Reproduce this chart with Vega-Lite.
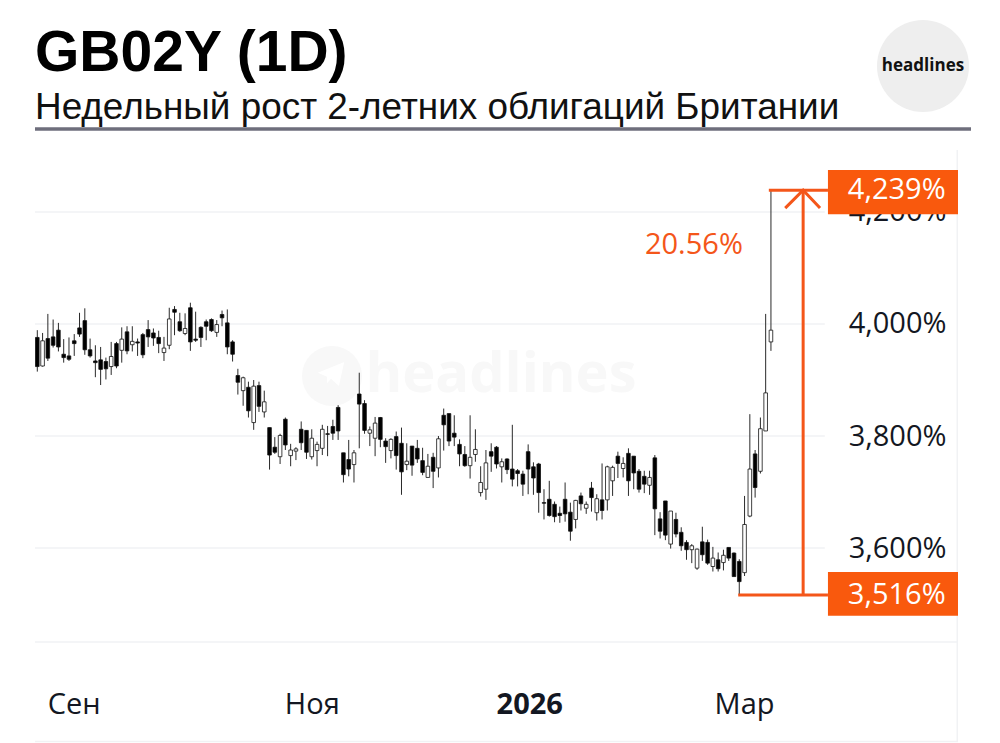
{
  "$schema": "https://vega.github.io/schema/vega-lite/v6.json",
  "description": "GB02Y daily candles with the weekly rise marked in orange",
  "autosize": {"type": "none"},
  "padding": {"left": 35, "top": 150, "right": 42, "bottom": 1},
  "width": 923,
  "height": 592,
  "background": "white",
  "title": {
    "text": "GB02Y (1D)",
    "subtitle": "Недельный рост 2-летних облигаций Британии",
    "anchor": "start",
    "frame": "group",
    "offset": 22,
    "dy": 129,
    "font": "Liberation Sans",
    "fontSize": 57,
    "fontWeight": "bold",
    "color": "black",
    "subtitleFont": "Liberation Sans",
    "subtitleFontSize": 36.9,
    "subtitleColor": "#111111",
    "subtitlePadding": 7
  },
  "config": {"view": {"stroke": null}},
  "datasets": {
    "one": [{}],
    "candles": [
      {"n":1,"high":3.989,"open":3.976,"close":3.924,"low":3.915},
      {"n":2,"high":3.984,"open":3.925,"close":3.970,"low":3.924},
      {"n":3,"high":4.018,"open":3.974,"close":3.939,"low":3.934},
      {"n":4,"high":4.008,"open":3.977,"close":3.962,"low":3.958},
      {"n":5,"high":4.002,"open":3.989,"close":3.959,"low":3.951},
      {"n":6,"high":3.973,"open":3.946,"close":3.940,"low":3.931},
      {"n":7,"high":3.976,"open":3.943,"close":3.937,"low":3.934},
      {"n":8,"high":3.982,"open":3.970,"close":3.965,"low":3.943},
      {"n":9,"high":4.020,"open":3.993,"close":3.982,"low":3.977},
      {"n":10,"high":4.028,"open":4.006,"close":3.954,"low":3.945},
      {"n":11,"high":3.974,"open":3.954,"close":3.943,"low":3.940},
      {"n":12,"high":3.962,"open":3.934,"close":3.931,"low":3.905},
      {"n":13,"high":3.959,"open":3.936,"close":3.919,"low":3.891},
      {"n":14,"high":3.940,"open":3.933,"close":3.920,"low":3.901},
      {"n":15,"high":3.968,"open":3.924,"close":3.942,"low":3.909},
      {"n":16,"high":3.968,"open":3.965,"close":3.925,"low":3.921},
      {"n":17,"high":3.994,"open":3.953,"close":3.973,"low":3.931},
      {"n":18,"high":3.996,"open":3.986,"close":3.952,"low":3.946},
      {"n":19,"high":3.996,"open":3.963,"close":3.969,"low":3.951},
      {"n":20,"high":3.974,"open":3.968,"close":3.966,"low":3.943},
      {"n":21,"high":3.984,"open":3.981,"close":3.945,"low":3.939},
      {"n":22,"high":4.007,"open":3.990,"close":3.977,"low":3.959},
      {"n":23,"high":3.992,"open":3.984,"close":3.975,"low":3.961},
      {"n":24,"high":3.988,"open":3.976,"close":3.965,"low":3.948},
      {"n":25,"high":3.977,"open":3.949,"close":3.957,"low":3.934},
      {"n":26,"high":4.029,"open":3.962,"close":4.009,"low":3.955},
      {"n":27,"high":4.032,"open":4.026,"close":4.021,"low":3.980},
      {"n":28,"high":4.020,"open":4.004,"close":3.988,"low":3.986},
      {"n":29,"high":4.019,"open":3.983,"close":3.992,"low":3.980},
      {"n":30,"high":4.038,"open":4.029,"close":3.968,"low":3.952},
      {"n":31,"high":4.022,"open":3.973,"close":3.971,"low":3.968},
      {"n":32,"high":3.996,"open":3.994,"close":3.976,"low":3.959},
      {"n":33,"high":4.008,"open":4.004,"close":3.996,"low":3.971},
      {"n":34,"high":4.010,"open":4.008,"close":3.988,"low":3.986},
      {"n":35,"high":4.007,"open":3.985,"close":3.999,"low":3.977},
      {"n":36,"high":4.024,"open":4.017,"close":4.011,"low":3.996},
      {"n":37,"high":4.026,"open":4.002,"close":3.959,"low":3.946},
      {"n":38,"high":3.971,"open":3.968,"close":3.946,"low":3.933},
      {"n":39,"high":3.920,"open":3.908,"close":3.896,"low":3.874},
      {"n":40,"high":3.906,"open":3.881,"close":3.904,"low":3.854},
      {"n":41,"high":3.897,"open":3.887,"close":3.845,"low":3.833},
      {"n":42,"high":3.900,"open":3.824,"close":3.889,"low":3.811},
      {"n":43,"high":3.897,"open":3.890,"close":3.853,"low":3.843},
      {"n":44,"high":3.881,"open":3.843,"close":3.861,"low":3.833},
      {"n":45,"high":3.815,"open":3.815,"close":3.766,"low":3.740},
      {"n":46,"high":3.798,"open":3.780,"close":3.771,"low":3.768},
      {"n":47,"high":3.804,"open":3.763,"close":3.801,"low":3.750},
      {"n":48,"high":3.833,"open":3.830,"close":3.784,"low":3.775},
      {"n":49,"high":3.786,"open":3.765,"close":3.775,"low":3.746},
      {"n":50,"high":3.780,"open":3.773,"close":3.777,"low":3.757},
      {"n":51,"high":3.826,"open":3.812,"close":3.788,"low":3.775},
      {"n":52,"high":3.810,"open":3.810,"close":3.771,"low":3.759},
      {"n":53,"high":3.812,"open":3.763,"close":3.796,"low":3.758},
      {"n":54,"high":3.790,"open":3.774,"close":3.785,"low":3.746},
      {"n":55,"high":3.820,"open":3.778,"close":3.812,"low":3.766},
      {"n":56,"high":3.818,"open":3.804,"close":3.803,"low":3.764},
      {"n":57,"high":3.829,"open":3.817,"close":3.805,"low":3.793},
      {"n":58,"high":3.855,"open":3.851,"close":3.809,"low":3.793},
      {"n":59,"high":3.770,"open":3.770,"close":3.731,"low":3.717},
      {"n":60,"high":3.793,"open":3.758,"close":3.741,"low":3.728},
      {"n":61,"high":3.775,"open":3.749,"close":3.770,"low":3.717},
      {"n":62,"high":3.913,"open":3.875,"close":3.857,"low":3.778},
      {"n":63,"high":3.864,"open":3.858,"close":3.810,"low":3.804},
      {"n":64,"high":3.817,"open":3.805,"close":3.811,"low":3.782},
      {"n":65,"high":3.834,"open":3.796,"close":3.823,"low":3.764},
      {"n":66,"high":3.834,"open":3.833,"close":3.794,"low":3.780},
      {"n":67,"high":3.796,"open":3.791,"close":3.781,"low":3.752},
      {"n":68,"high":3.796,"open":3.774,"close":3.794,"low":3.760},
      {"n":69,"high":3.808,"open":3.799,"close":3.765,"low":3.740},
      {"n":70,"high":3.815,"open":3.787,"close":3.736,"low":3.695},
      {"n":71,"high":3.787,"open":3.749,"close":3.755,"low":3.739},
      {"n":72,"high":3.782,"open":3.782,"close":3.748,"low":3.729},
      {"n":73,"high":3.793,"open":3.778,"close":3.759,"low":3.752},
      {"n":74,"high":3.779,"open":3.756,"close":3.735,"low":3.730},
      {"n":75,"high":3.768,"open":3.726,"close":3.746,"low":3.726},
      {"n":76,"high":3.770,"open":3.762,"close":3.737,"low":3.707},
      {"n":77,"high":3.800,"open":3.743,"close":3.795,"low":3.726},
      {"n":78,"high":3.849,"open":3.837,"close":3.820,"low":3.774},
      {"n":79,"high":3.840,"open":3.840,"close":3.791,"low":3.782},
      {"n":80,"high":3.837,"open":3.805,"close":3.798,"low":3.782},
      {"n":81,"high":3.794,"open":3.785,"close":3.768,"low":3.746},
      {"n":82,"high":3.782,"open":3.767,"close":3.747,"low":3.745},
      {"n":83,"high":3.837,"open":3.747,"close":3.762,"low":3.724},
      {"n":84,"high":3.812,"open":3.767,"close":3.776,"low":3.754},
      {"n":85,"high":3.746,"open":3.699,"close":3.717,"low":3.692},
      {"n":86,"high":3.775,"open":3.705,"close":3.752,"low":3.686},
      {"n":87,"high":3.787,"open":3.772,"close":3.764,"low":3.736},
      {"n":88,"high":3.782,"open":3.780,"close":3.750,"low":3.742},
      {"n":89,"high":3.760,"open":3.745,"close":3.754,"low":3.717},
      {"n":90,"high":3.760,"open":3.759,"close":3.740,"low":3.732},
      {"n":91,"high":3.820,"open":3.741,"close":3.723,"low":3.710},
      {"n":92,"high":3.741,"open":3.738,"close":3.733,"low":3.710},
      {"n":93,"high":3.738,"open":3.732,"close":3.714,"low":3.693},
      {"n":94,"high":3.785,"open":3.772,"close":3.741,"low":3.696},
      {"n":95,"high":3.753,"open":3.745,"close":3.725,"low":3.695},
      {"n":96,"high":3.752,"open":3.750,"close":3.699,"low":3.663},
      {"n":97,"high":3.705,"open":3.681,"close":3.680,"low":3.651},
      {"n":98,"high":3.720,"open":3.687,"close":3.658,"low":3.656},
      {"n":99,"high":3.683,"open":3.678,"close":3.656,"low":3.646},
      {"n":100,"high":3.674,"open":3.662,"close":3.658,"low":3.645},
      {"n":101,"high":3.717,"open":3.687,"close":3.661,"low":3.647},
      {"n":102,"high":3.681,"open":3.664,"close":3.630,"low":3.613},
      {"n":103,"high":3.686,"open":3.651,"close":3.685,"low":3.635},
      {"n":104,"high":3.699,"open":3.693,"close":3.679,"low":3.667},
      {"n":105,"high":3.683,"open":3.671,"close":3.678,"low":3.661},
      {"n":106,"high":3.718,"open":3.707,"close":3.690,"low":3.665},
      {"n":107,"high":3.696,"open":3.663,"close":3.688,"low":3.649},
      {"n":108,"high":3.751,"open":3.686,"close":3.667,"low":3.651},
      {"n":109,"high":3.747,"open":3.686,"close":3.745,"low":3.667},
      {"n":110,"high":3.747,"open":3.720,"close":3.744,"low":3.693},
      {"n":111,"high":3.772,"open":3.764,"close":3.751,"low":3.725},
      {"n":112,"high":3.762,"open":3.742,"close":3.751,"low":3.726},
      {"n":113,"high":3.778,"open":3.769,"close":3.720,"low":3.693},
      {"n":114,"high":3.764,"open":3.764,"close":3.734,"low":3.705},
      {"n":115,"high":3.741,"open":3.737,"close":3.705,"low":3.699},
      {"n":116,"high":3.738,"open":3.728,"close":3.714,"low":3.698},
      {"n":117,"high":3.738,"open":3.712,"close":3.726,"low":3.695},
      {"n":118,"high":3.766,"open":3.761,"close":3.670,"low":3.623},
      {"n":119,"high":3.664,"open":3.652,"close":3.630,"low":3.617},
      {"n":120,"high":3.684,"open":3.684,"close":3.623,"low":3.614},
      {"n":121,"high":3.666,"open":3.607,"close":3.666,"low":3.599},
      {"n":122,"high":3.663,"open":3.651,"close":3.625,"low":3.619},
      {"n":123,"high":3.637,"open":3.628,"close":3.604,"low":3.595},
      {"n":124,"high":3.614,"open":3.610,"close":3.597,"low":3.579},
      {"n":125,"high":3.607,"open":3.597,"close":3.604,"low":3.573},
      {"n":126,"high":3.599,"open":3.564,"close":3.598,"low":3.561},
      {"n":127,"high":3.638,"open":3.611,"close":3.588,"low":3.577},
      {"n":128,"high":3.615,"open":3.610,"close":3.573,"low":3.570},
      {"n":129,"high":3.602,"open":3.567,"close":3.582,"low":3.558},
      {"n":130,"high":3.592,"open":3.579,"close":3.563,"low":3.558},
      {"n":131,"high":3.597,"open":3.574,"close":3.587,"low":3.560},
      {"n":132,"high":3.601,"open":3.601,"close":3.582,"low":3.577},
      {"n":133,"high":3.592,"open":3.591,"close":3.549,"low":3.549},
      {"n":134,"high":3.580,"open":3.576,"close":3.540,"low":3.516},
      {"n":135,"high":3.693,"open":3.556,"close":3.642,"low":3.550},
      {"n":136,"high":3.839,"open":3.657,"close":3.741,"low":3.655},
      {"n":137,"high":3.775,"open":3.768,"close":3.708,"low":3.690},
      {"n":138,"high":3.833,"open":3.737,"close":3.813,"low":3.733},
      {"n":139,"high":4.018,"open":3.809,"close":3.877,"low":3.809},
      {"n":140,"high":4.239,"open":3.968,"close":3.989,"low":3.952}
    ],
    "levels": [{"value":3.6},{"value":3.8},{"value":4.0},{"value":4.2}],
    "extremes": [
      {"level":4.239,"start":139.6,"top":4.275,"bottom":4.196,"label":"4,239%"},
      {"level":3.516,"start":133.8,"top":3.557,"bottom":3.479,"label":"3,516%"}
    ],
    "arrowhead": [
      {"n":142.7,"level":4.207,"part":1},
      {"n":146.1,"level":4.239,"part":2},
      {"n":149.3,"level":4.207,"part":3}
    ]
  },
  "layer": [
    {
      "data": {"name": "levels"},
      "mark": {"type": "rule", "color": "#f1f2f4", "strokeWidth": 1.5},
      "encoding": {
        "x": {"datum": 0.564, "type": "quantitative", "scale": {"domain": [0.564, 175.44], "nice": false, "zero": false, "padding": 0},
          "axis": {"title": null, "grid": false, "domain": false, "ticks": false, "values": [7.9, 53, 94.2, 134.9],
            "labelExpr": "datum.value == 7.9 ? 'Сен' : datum.value == 53 ? 'Ноя' : datum.value == 94.2 ? '2026' : 'Мар'",
            "labelFont": "Open Sans", "labelFontSize": 29, "labelColor": "#131722", "labelBaseline": "middle",
            "labelPadding": -38, "labelFlush": false, "labelOverlap": false,
            "labelFontWeight": {"condition": {"test": "datum.value == 94.2", "value": "bold"}, "value": "normal"}}},
        "x2": {"datum": 150.2},
        "y": {"field": "value", "type": "quantitative", "scale": {"domain": [3.2536, 4.3107], "nice": false, "zero": false},
          "axis": {"title": null, "grid": false, "domain": false, "ticks": false, "orient": "right", "values": [3.6, 3.8, 4.0, 4.2],
            "labelExpr": "replace(format(datum.value, '.3f'), '.', ',') + '%'",
            "labelFont": "Open Sans", "labelFontSize": 29, "labelColor": "#131722", "labelAlign": "right",
            "labelPadding": -12, "labelFlush": false, "labelOverlap": false}}
      }
    },
    {
      "data": {"name": "one"},
      "mark": {"type": "rule", "color": "#f1f2f4", "strokeWidth": 1.5},
      "encoding": {"y": {"datum": 3.432, "type": "quantitative", "scale": {"domain": [3.2536, 4.3107], "nice": false, "zero": false}}}
    },
    {
      "data": {"name": "one"},
      "mark": {"type": "rule", "color": "#f1f2f4", "strokeWidth": 1.5},
      "encoding": {"y": {"datum": 3.2545, "type": "quantitative", "scale": {"domain": [3.2536, 4.3107], "nice": false, "zero": false}}}
    },
    {
      "data": {"name": "one"},
      "mark": {"type": "rule", "color": "#f1f2f4", "strokeWidth": 1.5},
      "encoding": {"x": {"datum": 175.3, "type": "quantitative", "scale": {"domain": [0.564, 175.44], "nice": false, "zero": false, "padding": 0}}}
    },
    {
      "data": {"name": "one"},
      "mark": {"type": "text", "text": "headlines", "font": "Open Sans", "fontWeight": "bold", "fontSize": 56, "color": "#f8f8f8", "align": "center", "baseline": "middle"},
      "encoding": {"x": {"value": 466}, "y": {"value": 225}}
    },
    {
      "data": {"name": "one"},
      "mark": {"type": "point", "shape": "circle", "filled": true, "size": 3600, "color": "#f8f8f8", "opacity": 1},
      "encoding": {"x": {"value": 297}, "y": {"value": 226}}
    },
    {
      "data": {"name": "one"},
      "mark": {"type": "point", "shape": "M-1,-0.1 L1,-0.9 L0.6,0.9 L0,0.35 L-0.3,0.7 L-0.3,0.2 Z", "filled": true, "size": 700, "color": "white", "opacity": 1},
      "encoding": {"x": {"value": 296}, "y": {"value": 224}}
    },
    {
      "data": {"name": "candles"},
      "mark": {"type": "rule", "color": "#2a2a2a", "strokeWidth": 1},
      "encoding": {
        "x": {"field": "n", "type": "quantitative", "scale": {"domain": [0.564, 175.44], "nice": false, "zero": false, "padding": 0}},
        "y": {"field": "low", "type": "quantitative", "scale": {"domain": [3.2536, 4.3107], "nice": false, "zero": false}},
        "y2": {"field": "high"}
      }
    },
    {
      "data": {"name": "candles"},
      "mark": {"type": "bar", "size": 3.6, "stroke": "#111111", "strokeWidth": 0.8},
      "encoding": {
        "x": {"field": "n", "type": "quantitative", "scale": {"domain": [0.564, 175.44], "nice": false, "zero": false, "padding": 0}},
        "y": {"field": "open", "type": "quantitative", "scale": {"domain": [3.2536, 4.3107], "nice": false, "zero": false}},
        "y2": {"field": "close"},
        "color": {"condition": {"test": "datum.close > datum.open", "value": "white"}, "value": "black"}
      }
    },
    {
      "data": {"name": "extremes"},
      "mark": {"type": "rule", "color": "#f4561a", "strokeWidth": 3},
      "encoding": {
        "x": {"field": "start", "type": "quantitative", "scale": {"domain": [0.564, 175.44], "nice": false, "zero": false, "padding": 0}},
        "x2": {"datum": 150.8},
        "y": {"field": "level", "type": "quantitative", "scale": {"domain": [3.2536, 4.3107], "nice": false, "zero": false}}
      }
    },
    {
      "data": {"name": "one"},
      "mark": {"type": "rule", "color": "#f4561a", "strokeWidth": 3},
      "encoding": {
        "x": {"datum": 146.1, "type": "quantitative", "scale": {"domain": [0.564, 175.44], "nice": false, "zero": false, "padding": 0}},
        "y": {"datum": 3.516, "type": "quantitative", "scale": {"domain": [3.2536, 4.3107], "nice": false, "zero": false}},
        "y2": {"datum": 4.239}
      }
    },
    {
      "data": {"name": "arrowhead"},
      "mark": {"type": "line", "color": "#f4561a", "strokeWidth": 3},
      "encoding": {
        "x": {"field": "n", "type": "quantitative", "scale": {"domain": [0.564, 175.44], "nice": false, "zero": false, "padding": 0}},
        "y": {"field": "level", "type": "quantitative", "scale": {"domain": [3.2536, 4.3107], "nice": false, "zero": false}},
        "order": {"field": "part"}
      }
    },
    {
      "data": {"name": "extremes"},
      "mark": {"type": "rect", "color": "#f9590d"},
      "encoding": {
        "x": {"datum": 150.8, "type": "quantitative", "scale": {"domain": [0.564, 175.44], "nice": false, "zero": false, "padding": 0}},
        "x2": {"datum": 175.44},
        "y": {"field": "top", "type": "quantitative", "scale": {"domain": [3.2536, 4.3107], "nice": false, "zero": false}},
        "y2": {"field": "bottom"}
      }
    },
    {
      "data": {"name": "extremes"},
      "mark": {"type": "text", "font": "Open Sans", "fontSize": 29, "color": "white", "align": "right", "baseline": "middle"},
      "encoding": {
        "x": {"datum": 173.1, "type": "quantitative", "scale": {"domain": [0.564, 175.44], "nice": false, "zero": false, "padding": 0}},
        "y": {"field": "level", "type": "quantitative", "scale": {"domain": [3.2536, 4.3107], "nice": false, "zero": false}},
        "text": {"field": "label"}
      }
    },
    {
      "data": {"name": "one"},
      "mark": {"type": "text", "text": "20.56%", "font": "Open Sans", "fontSize": 29, "color": "#f4561a", "align": "center", "baseline": "middle"},
      "encoding": {
        "x": {"datum": 125.4, "type": "quantitative", "scale": {"domain": [0.564, 175.44], "nice": false, "zero": false, "padding": 0}},
        "y": {"datum": 4.141, "type": "quantitative", "scale": {"domain": [3.2536, 4.3107], "nice": false, "zero": false}}
      }
    },
    {
      "data": {"name": "one"},
      "mark": {"type": "rule", "color": "#6e6e7c", "strokeWidth": 3.5},
      "encoding": {"x": {"value": 0}, "x2": {"value": 936}, "y": {"value": -21}}
    },
    {
      "data": {"name": "one"},
      "mark": {"type": "point", "shape": "circle", "filled": true, "size": 8464, "color": "#eeeeee", "opacity": 1},
      "encoding": {"x": {"value": 888}, "y": {"value": -84}}
    },
    {
      "data": {"name": "one"},
      "mark": {"type": "text", "text": "headlines", "font": "Open Sans", "fontWeight": "bold", "fontSize": 17, "color": "#111111", "align": "center", "baseline": "middle"},
      "encoding": {"x": {"value": 888}, "y": {"value": -84}}
    }
  ]
}
